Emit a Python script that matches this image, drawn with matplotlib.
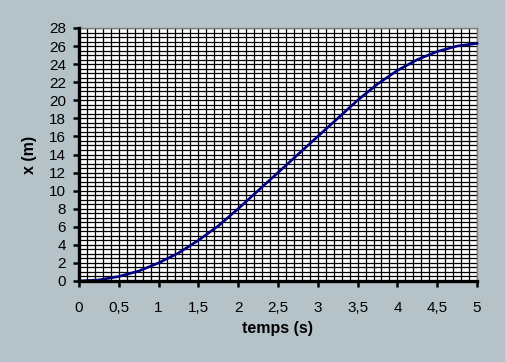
import numpy as np
import matplotlib
matplotlib.use('Agg')
import matplotlib.pyplot as plt
from matplotlib.ticker import MultipleLocator, FuncFormatter

# values
temps = [0, 0.25, 0.5, 0.75, 1, 1.25, 1.5, 1.75, 2, 2.25, 2.5, 2.75,
         3, 3.25, 3.5, 3.75, 4, 4.25, 4.5, 4.75, 5]
position = [0, 0.12, 0.5, 1.1, 2.0, 3.1, 4.5, 6.1, 8.0, 10.0, 12.0, 14.0,
            16.0, 18.0, 20.0, 21.8, 23.3, 24.5, 25.4, 26.0, 26.3]

bg = '#b5c3c9'
plt.rcParams['font.family'] = ['Liberation Sans', 'DejaVu Sans']

fig = plt.figure(figsize=(5.06, 3.62), dpi=100, facecolor=bg)
ax = fig.add_axes([79/506, 1-281/362, (477-79)/506, (281-28)/362])
ax.set_facecolor('white')

ax.plot(temps, position, color='#000080', lw=1.9, zorder=3, clip_on=False)

ax.set_xlim(0, 5)
ax.set_ylim(0, 28)
ax.xaxis.set_major_locator(MultipleLocator(0.5))
ax.xaxis.set_minor_locator(MultipleLocator(0.1))
ax.yaxis.set_major_locator(MultipleLocator(2))
ax.yaxis.set_minor_locator(MultipleLocator(0.5))
ax.xaxis.set_major_formatter(FuncFormatter(lambda v, p: f'{v:g}'.replace('.', ',')))

ax.grid(which='both', color='black', lw=0.9)
ax.set_axisbelow(True)
ax.tick_params(which='minor', length=0)
ax.tick_params(which='major', length=4.5, width=1.8, direction='out', labelsize=11)
ax.tick_params(axis='x', pad=10)
ax.tick_params(axis='y', pad=5)

for s in ['top', 'right']:
    ax.spines[s].set_color('#808080')
    ax.spines[s].set_linewidth(1)
for s in ['left', 'bottom']:
    ax.spines[s].set_color('black')
    ax.spines[s].set_linewidth(2.4)
    ax.spines[s].set_zorder(4)

fig.text(30/506, 1-155/362, 'x (m)', rotation=90, fontsize=11.5, fontweight='bold',
         ha='center', va='center')
fig.text(278/506, 1-329/362, 'temps (s)', fontsize=11.5, fontweight='bold',
         ha='center', va='center')

fig.savefig('out.png', dpi=100, facecolor=bg)
